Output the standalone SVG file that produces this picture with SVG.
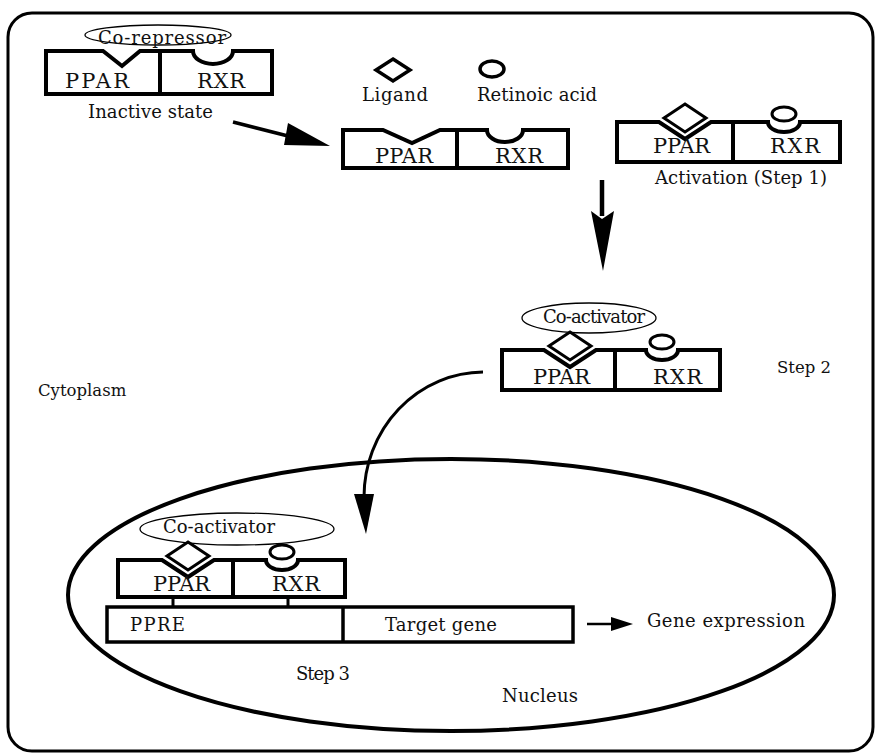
<svg xmlns="http://www.w3.org/2000/svg" width="879" height="753" viewBox="0 0 879 753">
<style>
text{font-family:"DejaVu Serif","Liberation Serif",serif;fill:#111;}
.lbl{font-size:18px}
.sm{font-size:16.5px}
.pr{font-size:21px}
.co-t{font-size:18px}
.box{fill:#fff;stroke:#000;stroke-width:4;stroke-linejoin:miter}
.div{stroke:#000;stroke-width:4}
.lig{fill:#fff;stroke:#000;stroke-width:3.5}
.co{fill:none;stroke:#000;stroke-width:1.3}
.wire{fill:none;stroke:#000;stroke-width:3}
.head{fill:#000}
</style>
<rect x="8" y="13" width="865" height="738" rx="24" fill="none" stroke="#000" stroke-width="3"/>
<g id="nucleus">
<ellipse cx="451" cy="595" rx="383" ry="136" fill="none" stroke="#000" stroke-width="4"/>
<text class="lbl" x="502" y="702" textLength="76" lengthAdjust="spacing">Nucleus</text>
</g>
<g id="cytoplasm"><text class="sm" x="38" y="396">Cytoplasm</text></g>
<g id="inactive">
<path class="box" d="M46,51 H103 L122,66 L140,51 H193 A20 13 0 0 0 233,51 H272 V94 H46 Z"/>
<line class="div" x1="160" y1="51" x2="160" y2="94"/>
<ellipse class="co" cx="158" cy="35" rx="73" ry="10"/>
<text class="co-t" x="98" y="44" textLength="128" lengthAdjust="spacing">Co-repressor</text>
<text class="pr" x="65" y="88" textLength="64" lengthAdjust="spacing">PPAR</text>
<text class="pr" x="197" y="88" textLength="48" lengthAdjust="spacing">RXR</text>
<text class="lbl" x="88" y="118" textLength="125" lengthAdjust="spacing">Inactive state</text>
</g>
<g id="ligands">
<polygon class="lig" points="393,59 410,70 393,81 376,70"/>
<ellipse class="lig" cx="492" cy="69" rx="12" ry="8"/>
<text class="lbl" x="362" y="101" textLength="66" lengthAdjust="spacing">Ligand</text>
<text class="lbl" x="477" y="101" textLength="120" lengthAdjust="spacing">Retinoic acid</text>
</g>
<g id="unbound">
<path class="box" d="M343,130 H383 L412,143 L440,130 H487 A18 12 0 0 0 523,130 H568 V168 H343 Z"/>
<line class="div" x1="457" y1="130" x2="457" y2="168"/>
<text class="pr" x="375" y="163" textLength="58" lengthAdjust="spacing">PPAR</text>
<text class="pr" x="495" y="163" textLength="48" lengthAdjust="spacing">RXR</text>
</g>
<g id="step1">
<path class="box" d="M617,122 H659 L685,139 L711,122 H768 A16 10 0 0 0 800,122 H840 V162 H617 Z"/>
<line class="div" x1="733" y1="122" x2="733" y2="162"/>
<polygon class="lig" points="685,104 706,118 685,132 664,118" style="stroke-width:3"/>
<ellipse class="lig" cx="784" cy="114" rx="12" ry="7" style="stroke-width:3"/>
<text class="pr" x="653" y="153" textLength="57" lengthAdjust="spacing">PPAR</text>
<text class="pr" x="770" y="153" textLength="50" lengthAdjust="spacing">RXR</text>
<text class="lbl" x="655" y="184" textLength="172" lengthAdjust="spacing">Activation (Step 1)</text>
</g>
<g id="step2">
<ellipse class="co" cx="589" cy="318" rx="67" ry="15"/>
<text class="co-t" x="543" y="323" textLength="102" lengthAdjust="spacing">Co-activator</text>
<path class="box" d="M502,350 H544 L570,367 L596,350 H646 A16 10 0 0 0 678,350 H720 V390 H502 Z"/>
<line class="div" x1="615" y1="350" x2="615" y2="390"/>
<polygon class="lig" points="570,332 591,346 570,360 549,346" style="stroke-width:3"/>
<ellipse class="lig" cx="662" cy="342" rx="12" ry="7" style="stroke-width:3"/>
<text class="pr" x="533" y="384" textLength="57" lengthAdjust="spacing">PPAR</text>
<text class="pr" x="653" y="384" textLength="49" lengthAdjust="spacing">RXR</text>
<text class="sm" x="777" y="373">Step 2</text>
</g>
<g id="step3">
<ellipse class="co" cx="237" cy="529" rx="97" ry="16"/>
<text class="co-t" x="163" y="533" textLength="112" lengthAdjust="spacing">Co-activator</text>
<path class="box" d="M118,560 H162 L188,577 L214,560 H266 A16 10 0 0 0 298,560 H345 V597 H118 Z"/>
<line class="div" x1="233" y1="560" x2="233" y2="597"/>
<polygon class="lig" points="188,542 209,556 188,570 167,556" style="stroke-width:3"/>
<ellipse class="lig" cx="282" cy="552" rx="12" ry="7" style="stroke-width:3"/>
<text class="pr" x="153" y="591" textLength="57" lengthAdjust="spacing">PPAR</text>
<text class="pr" x="272" y="591" textLength="48" lengthAdjust="spacing">RXR</text>
<line class="wire" x1="173" y1="597" x2="173" y2="608"/>
<line class="wire" x1="288" y1="597" x2="288" y2="608"/>
<text class="lbl" x="296" y="680" textLength="54" lengthAdjust="spacing">Step 3</text>
</g>
<g id="dna">
<rect x="107" y="607" width="466" height="35" fill="#fff" stroke="#000" stroke-width="3.5"/>
<line class="div" x1="343" y1="607" x2="343" y2="642" style="stroke-width:3.5"/>
<text class="lbl" x="130" y="631" textLength="55" lengthAdjust="spacing">PPRE</text>
<text class="lbl" x="385" y="631" textLength="112" lengthAdjust="spacing">Target gene</text>
</g>
<g id="expression"><text class="lbl" x="647" y="627" textLength="158" lengthAdjust="spacing">Gene expression</text></g>
<g id="connectors">
<line x1="233" y1="122" x2="292" y2="137" stroke="#000" stroke-width="3.5"/>
<polygon class="head" points="330,146 288,123 284,145"/>
<line x1="602" y1="180" x2="602" y2="216" stroke="#000" stroke-width="4.5"/>
<polygon class="head" points="591,211 602,219 614,211 603,271"/>
<path class="wire" d="M483,372 A120 125 0 0 0 364,497"/>
<polygon class="head" points="354,494 374,494 366,534"/>
<line x1="587" y1="624" x2="615" y2="624" stroke="#000" stroke-width="2.5"/>
<polygon class="head" points="611,617 633,624 611,631"/>
</g>
</svg>
